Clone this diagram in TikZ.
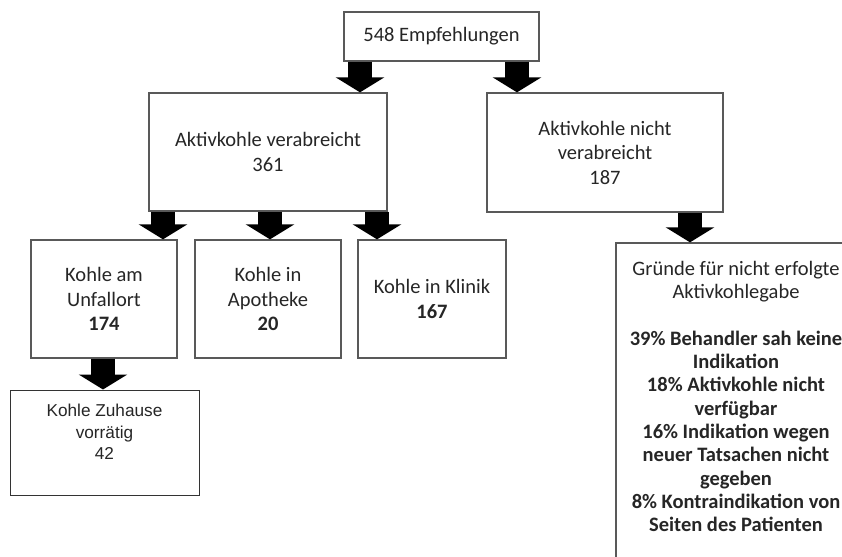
\documentclass[tikz,border=0pt]{standalone}
\usepackage{fontspec}
\setmainfont{Carlito}
\newfontfamily\arialfont{Liberation Sans}
\usetikzlibrary{arrows.meta}
\begin{document}
\begin{tikzpicture}[x=1pt,y=-1pt,
  box/.style={draw=black!65, line width=1.3pt, fill=white, inner sep=0pt,
    align=center, text=black!85, font=\fontsize{20.5}{24.5}\selectfont},
  plain/.style={inner sep=0pt, align=center, text=black!85},
  blk/.style={line width=24pt, -{Triangle[width=48pt,length=15pt]}, black}]
\useasboundingbox (0,0) rectangle (842,556);
\clip (0,0) rectangle (842,556);
% boxes
\node[box, minimum width=195pt, minimum height=49pt] (top) at (441.5,36.5) {548 Empfehlungen};
\node[box, minimum width=238pt, minimum height=118pt] (verab) at (268,152) {Aktivkohle verabreicht\\361};
\node[box, minimum width=236pt, minimum height=119pt] (nicht) at (605,152.5) {Aktivkohle nicht\\verabreicht\\187};
\node[box, minimum width=146pt, minimum height=118pt] (unfall) at (104,299) {Kohle am\\Unfallort\\\textbf{174}};
\node[box, minimum width=146pt, minimum height=118pt] (apo) at (268,299) {Kohle in\\Apotheke\\\textbf{20}};
\node[box, minimum width=148pt, minimum height=118pt] (klinik) at (432,299) {Kohle in Klinik\\\textbf{167}};
\node[box, draw=black!80, line width=1pt, minimum width=189pt, minimum height=105pt] (zuh) at (104.5,442.5) {};
\node[plain, font=\arialfont\fontsize{17.2}{21.5}\selectfont] (zuht) at (104.5,432) {Kohle Zuhause\\vorrätig\\42};
\node[box, minimum width=240pt, minimum height=360pt] (gr) at (736,423) {};
\node[plain, anchor=north, font=\fontsize{20.5}{23.3}\selectfont] (grt) at (736,261) {Gründe für nicht erfolgte\\Aktivkohlegabe\\\mbox{}\\
\textbf{39\% Behandler sah keine}\\\textbf{Indikation}\\\textbf{18\% Aktivkohle nicht}\\\textbf{verfügbar}\\
\textbf{16\% Indikation wegen}\\\textbf{neuer Tatsachen nicht}\\\textbf{gegeben}\\
\textbf{8\% Kontraindikation von}\\\textbf{Seiten des Patienten}};
% arrow positions
\coordinate (a1) at (360,0);
\coordinate (a2) at (517,0);
\coordinate (a3) at (163,0);
\coordinate (a4) at (270,0);
\coordinate (a5) at (377,0);
\coordinate (a6) at (103,0);
\coordinate (a7) at (690,0);
\draw[blk] (top.south -| a1) -- (verab.north -| a1);
\draw[blk] (top.south -| a2) -- (nicht.north -| a2);
\draw[blk] (verab.south -| a3) -- (unfall.north -| a3);
\draw[blk] (verab.south -| a4) -- (apo.north -| a4);
\draw[blk] (verab.south -| a5) -- (klinik.north -| a5);
\draw[blk] (unfall.south -| a6) -- (zuh.north -| a6);
\draw[blk] (nicht.south -| a7) -- (gr.north -| a7);
\end{tikzpicture}
\end{document}
